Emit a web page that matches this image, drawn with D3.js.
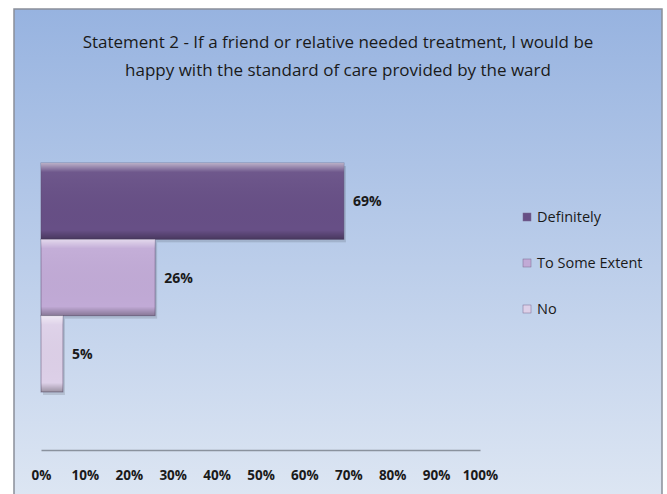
<!DOCTYPE html>
<html>
<head>
<meta charset="utf-8">
<script src="https://cdn.jsdelivr.net/npm/d3@7"></script>
<style>
  body { margin: 0; background: #fff; }
  text { font-family: "Open Sans", "Liberation Sans", sans-serif; }
</style>
</head>
<body>
<svg id="chart" width="667" height="494"></svg>
<script>
// chart data
const titleLines = ["Statement 2 - If a friend or relative needed treatment, I would be",
                    "happy with the standard of care provided by the ward"];
const categories = ["Definitely", "To Some Extent", "No"];
const values = [69, 26, 5];
const colors = ["#674f86", "#c1aad6", "#ddd0e8"];
const tickValues = [0, 10, 20, 30, 40, 50, 60, 70, 80, 90, 100];

var svg = d3.select("#chart");
var defs = svg.append("defs");

// background gradient
var bg = defs.append("linearGradient").attr("id", "bg")
    .attr("x1", 0).attr("y1", 0).attr("x2", 0).attr("y2", 1);
bg.append("stop").attr("offset", "0%").attr("stop-color", "#97b3e0");
bg.append("stop").attr("offset", "100%").attr("stop-color", "#dde6f3");

// bevel shading for the bars
var shade = defs.append("linearGradient").attr("id", "shade")
    .attr("x1", 0).attr("y1", 0).attr("x2", 0).attr("y2", 1);
shade.append("stop").attr("offset", "0%").attr("stop-color", "#fff").attr("stop-opacity", 0.55);
shade.append("stop").attr("offset", "12%").attr("stop-color", "#fff").attr("stop-opacity", 0.05);
shade.append("stop").attr("offset", "88%").attr("stop-color", "#000").attr("stop-opacity", 0.0);
shade.append("stop").attr("offset", "100%").attr("stop-color", "#000").attr("stop-opacity", 0.3);

svg.append("rect")
    .attr("x", 14).attr("y", 9).attr("width", 648).attr("height", 490)
    .attr("fill", "url(#bg)")
    .attr("stroke", "#8a8f99").attr("stroke-width", 1.5);

// title
svg.append("g").selectAll("text")
    .data(titleLines)
    .enter()
    .append("text")
    .attr("x", 338)
    .attr("y", function(d, i) { return 48 + i * 28; })
    .attr("text-anchor", "middle")
    .attr("font-size", 17)
    .attr("fill", "#1a1a1a")
    .text(function(d) { return d; });

var x = d3.scaleLinear().domain([0, 100]).range([41, 480]);
var y = d3.scaleBand().domain(categories).range([163, 392]).padding(0);

// soft drop shadow under the bars
var bars = svg.append("g");
bars.selectAll("rect.shadow")
    .data(values)
    .enter()
    .append("rect")
    .attr("class", "shadow")
    .attr("x", x(0) + 2)
    .attr("y", function(d, i) { return y(categories[i]) + 3; })
    .attr("width", function(d) { return x(d) - x(0); })
    .attr("height", y.bandwidth())
    .attr("fill", "#000").attr("opacity", 0.12);
bars.selectAll("rect.bar")
    .data(values)
    .enter()
    .append("rect")
    .attr("class", "bar")
    .attr("x", x(0))
    .attr("y", function(d, i) { return y(categories[i]); })
    .attr("width", function(d) { return x(d) - x(0); })
    .attr("height", y.bandwidth())
    .attr("fill", function(d, i) { return colors[i]; })
    .attr("stroke", "#5a4a6e").attr("stroke-opacity", 0.5);
bars.selectAll("rect.shade")
    .data(values)
    .enter()
    .append("rect")
    .attr("class", "shade")
    .attr("x", x(0))
    .attr("y", function(d, i) { return y(categories[i]); })
    .attr("width", function(d) { return x(d) - x(0); })
    .attr("height", y.bandwidth())
    .attr("fill", "url(#shade)");

// value labels
svg.append("g").selectAll("text")
    .data(values)
    .enter()
    .append("text")
    .attr("x", function(d) { return x(d) + 9; })
    .attr("y", function(d, i) { return y(categories[i]) + y.bandwidth() / 2 + 5; })
    .attr("font-size", 14)
    .attr("font-weight", "bold")
    .attr("fill", "#1a1a1a")
    .text(function(d) { return d + "%"; });

// x axis
var axis = svg.append("g")
    .attr("transform", "translate(0,450)")
    .call(d3.axisBottom(x).tickValues(tickValues).tickSize(0).tickPadding(20)
        .tickFormat(function(d) { return d + "%"; }));
axis.select(".domain").attr("stroke", "#8a929e").attr("stroke-width", 1.5);
axis.selectAll("text")
    .attr("font-size", 13.5)
    .attr("font-weight", "bold")
    .attr("fill", "#1a1a1a")
    .style("font-family", "'Open Sans', 'Liberation Sans', sans-serif");

// legend
var legend = svg.append("g").selectAll("g")
    .data(categories)
    .enter()
    .append("g")
    .attr("transform", function(d, i) { return "translate(523," + (217 + i * 46) + ")"; });
legend.append("rect")
    .attr("x", 0).attr("y", -4).attr("width", 8).attr("height", 8)
    .attr("fill", function(d, i) { return colors[i]; })
    .attr("stroke", "#7a6a8e").attr("stroke-width", 0.5);
legend.append("text")
    .attr("x", 14).attr("y", 5)
    .attr("font-size", 14.5)
    .attr("fill", "#1a1a1a")
    .text(function(d) { return d; });
</script>
</body>
</html>
